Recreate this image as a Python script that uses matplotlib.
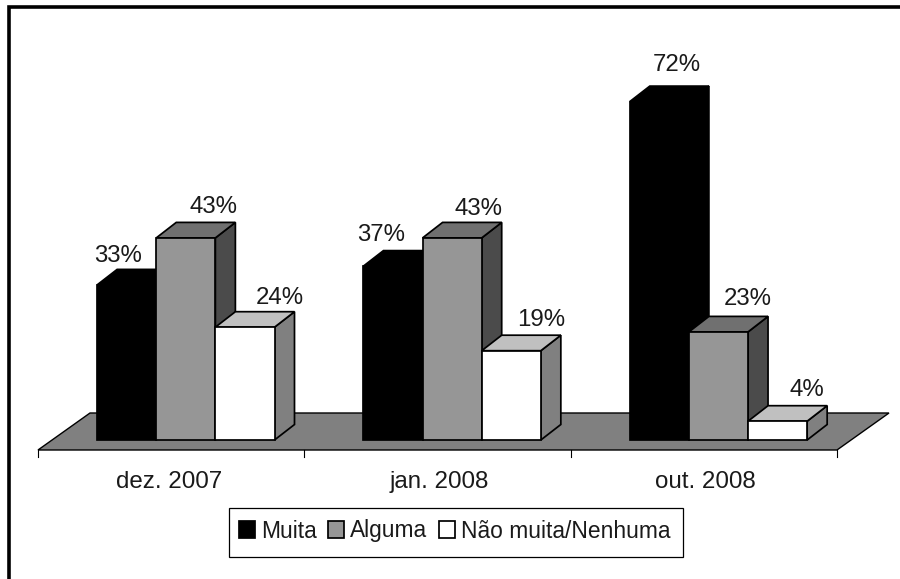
import matplotlib
matplotlib.use('Agg')
import matplotlib.pyplot as plt
from matplotlib.lines import Line2D
from matplotlib.patches import Polygon, Patch, Rectangle

categories = ['dez. 2007', 'jan. 2008', 'out. 2008']
series_names = ['Muita', 'Alguma', 'Não muita/Nenhuma']
muita = [33, 37, 72]
alguma = [43, 43, 23]
nao_muita = [24, 19, 4]
series = [muita, alguma, nao_muita]

# front, top, side shades per series
shades = [('#000000', '#000000', '#000000'),
          ('#969696', '#707070', '#4b4b4b'),
          ('#ffffff', '#c0c0c0', '#808080')]

W, H = 900, 579
px_x = 266.33  # pixels per category
px_y = 4.7     # pixels per percent
x0, y0 = 38, 440

bar_w = 0.222
depth_x = 20 / px_x
depth_y = 15.5 / px_y
lw = 1.25
text_color = '#1a1a1a'

# hand placed label offsets in the original (pixels from bar top centre)
label_dx = [[-9, 28, 35], [-12, 26, 30], [17, 29, 29]]
label_dy = [[29, 31, 29], [31, 29, 31], [37, 33, 31]]
cat_dx = [-2.5, 1.5, 2]

plt.rcParams['font.family'] = ['Liberation Sans', 'DejaVu Sans']

fig = plt.figure(figsize=(W / 100, H / 100), dpi=100)
ax = fig.add_axes([0, 0, 1, 1])
ax.set_xlim(-x0 / px_x, (W - x0) / px_x)
ax.set_ylim((y0 - H) / px_y, y0 / px_y)
ax.axis('off')

# floor
front = -10 / px_y
back = 27 / px_y
skew = 52 / px_x
n = len(categories)
ax.add_patch(Polygon([(0, front), (n, front), (n + skew, back), (skew, back)],
                     facecolor='#808080', edgecolor='black', lw=1.0, zorder=1))
for i in range(n + 1):
    ax.plot([i, i], [front, front - 7 / px_y], color='black', lw=0.8, zorder=1)
for i, cat in enumerate(categories):
    ax.text(i + 0.5 + cat_dx[i] / px_x, (y0 - 482) / px_y, cat, ha='center', va='center',
            fontsize=17.4, color=text_color)

# bars, left to right in each group so nearer faces overlap
for i in range(n):
    for s in range(3):
        v = series[s][i]
        left = i + bar_w * (s + 1)
        right = left + bar_w
        fc, tc, sc = shades[s]
        z = 2 + s * 0.1
        ax.add_patch(Polygon([(right, 0), (right + depth_x, depth_y), (right + depth_x, v + depth_y), (right, v)],
                             facecolor=sc, edgecolor='black', lw=lw, zorder=z))
        ax.add_patch(Polygon([(left, v), (left + depth_x, v + depth_y), (right + depth_x, v + depth_y), (right, v)],
                             facecolor=tc, edgecolor='black', lw=lw, zorder=z))
        ax.add_patch(Rectangle((left, 0), bar_w, v, facecolor=fc, edgecolor='black', lw=lw, zorder=z + 0.05))
        ax.text((left + right) / 2 + label_dx[i][s] / px_x, v + label_dy[i][s] / px_y, f'{v}%',
                ha='center', va='center', fontsize=17.3, color=text_color, zorder=5)

# legend, box drawn separately because the text sits high and off centre in it
ax.add_patch(Rectangle((229 / W, 1 - 557 / H), 454 / W, 49 / H, transform=ax.transAxes,
                       facecolor='white', edgecolor='black', lw=0.9, zorder=9))
handles = [Patch(facecolor=shades[s][0], edgecolor='black', lw=lw, label=series_names[s]) for s in range(3)]
leg = ax.legend(handles=handles, ncol=3, loc='center', bbox_to_anchor=(454.5 / W, 1 - 531 / H),
                frameon=False, fontsize=16.4, handlelength=0.72, handleheight=0.72,
                handletextpad=0.25, columnspacing=0.5, labelcolor=text_color)
leg.set_zorder(10)

# outer border, only top and left in the original
fig.add_artist(Line2D([8.8 / W, 8.8 / W, 1], [0, 1 - 7 / H, 1 - 7 / H], transform=fig.transFigure,
                      color='black', lw=2.6, solid_joinstyle='miter'))

fig.savefig('out.png', dpi=100)
